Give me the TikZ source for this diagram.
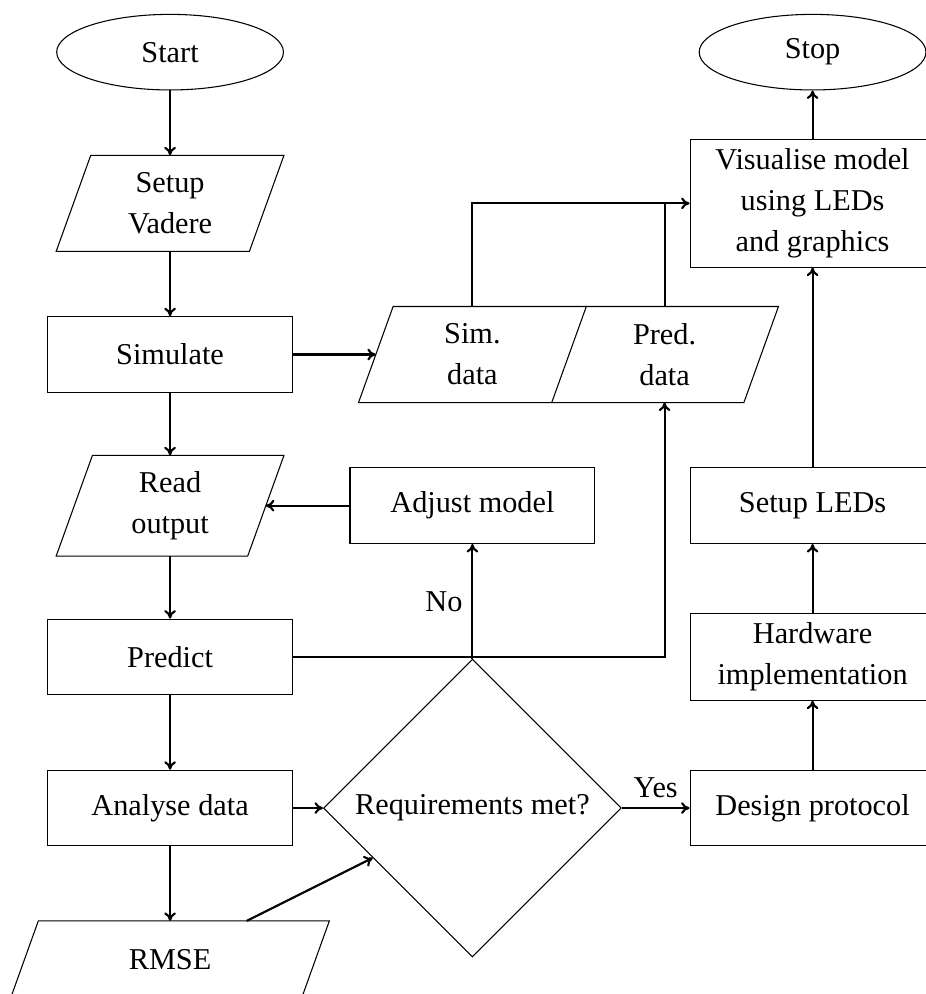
\documentclass[tikz,border=0pt]{standalone}
\usepackage{fontspec}
\setmainfont{Liberation Serif}
\usetikzlibrary{shapes.geometric,arrows.meta}
\begin{document}
\begin{tikzpicture}[
  txt/.style={font=\fontsize{11.4}{15.4}\selectfont, align=center},
  term/.style={txt, ellipse, draw, line width=0.4pt, minimum width=3cm, minimum height=1cm, inner sep=0pt},
  proc/.style={txt, rectangle, draw, line width=0.4pt, minimum width=3.24cm, minimum height=1cm, inner sep=0.12cm},
  iobox/.style={txt, rectangle, minimum height=1.257cm, inner sep=0pt},
  dec/.style={txt, diamond, draw, line width=0.4pt, minimum width=3.94cm, minimum height=3.94cm, inner sep=0pt},
  arr/.style={-{To[length=3.2pt,width=4.4pt]}, line width=0.8pt},
  ioline/.style={line width=0.4pt, line join=miter},
]
\useasboundingbox (-2.25,-12.46) rectangle (10.0,0.69);

% left column
\node[term] (start) at (0,0) {Start};
\node[iobox, minimum width=2.542cm] (setup) at (0,-2) {Setup\\Vadere};
\node[proc] (sim) at (0,-4) {Simulate};
\node[iobox, minimum width=2.52cm, minimum height=1.32cm] (read) at (0,-6) {Read\\output};
\node[proc] (predict) at (0,-8) {Predict};
\node[proc] (analyse) at (0,-10) {Analyse data};
\node[iobox, minimum width=3.836cm, minimum height=1cm] (rmse) at (0,-12) {RMSE};

% middle column
\node[iobox, minimum width=2.542cm] (simdata) at (4,-4) {Sim.\\data};
\node[iobox, minimum width=2.542cm] (preddata) at (6.542,-4) {Pred.\\data};
\node[proc] (adjust) at (4,-6) {Adjust model};
\node[dec] (decide) at (4,-10) {Requirements met?};

% right column
\node[term] (stop) at (8.5,0) {Stop};
\node[proc] (vis) at (8.5,-2) {Visualise model\\using LEDs\\and graphics};
\node[proc] (leds) at (8.5,-6) {Setup LEDs};
\node[proc] (hw) at (8.5,-8) {Hardware\\implementation};
\node[proc] (design) at (8.5,-10) {Design protocol};

% parallelogram outlines
\foreach \n/\s in {setup/0.2288, read/0.2402, rmse/0.182, simdata/0.2288}{
  \draw[ioline] ([xshift=-\s cm]\n.south west) -- ([xshift=\s cm]\n.north west)
     -- ([xshift=\s cm]\n.north east) -- ([xshift=-\s cm]\n.south east) -- cycle;
}
\draw[ioline] ([xshift=0.2288cm]simdata.north east) -- ([xshift=0.2288cm]preddata.north east)
   -- ([xshift=-0.2288cm]preddata.south east) -- ([xshift=-0.2288cm]simdata.south east);

% connectors
\draw[arr] (start) -- (setup);
\draw[arr] (setup) -- (sim);
\draw[arr] (sim) -- (read);
\draw[arr] (read) -- (predict);
\draw[arr] (predict) -- (analyse);
\draw[arr] (analyse) -- (rmse);
\draw[arr] (sim.east) -- (simdata.west);
\draw[arr] (simdata.north) |- (vis.west);
\draw[line width=0.8pt] (preddata.north) -- (preddata.north |- vis.west);
\draw[arr] (predict.east) -| (preddata.south);
\draw[arr] (adjust.west) -- (read.east);
\draw[arr] (decide.north) -- node[txt, left] {No} (adjust.south);
\draw[arr] (analyse.east) -- (decide.west);
\draw[arr] (rmse) -- (decide);
\draw[arr] (decide.east) -- node[txt, above] {Yes} (design.west);
\draw[arr] (design) -- (hw);
\draw[arr] (hw) -- (leds);
\draw[arr] (leds) -- (vis);
\draw[arr] (vis) -- (stop);
\end{tikzpicture}
\end{document}
